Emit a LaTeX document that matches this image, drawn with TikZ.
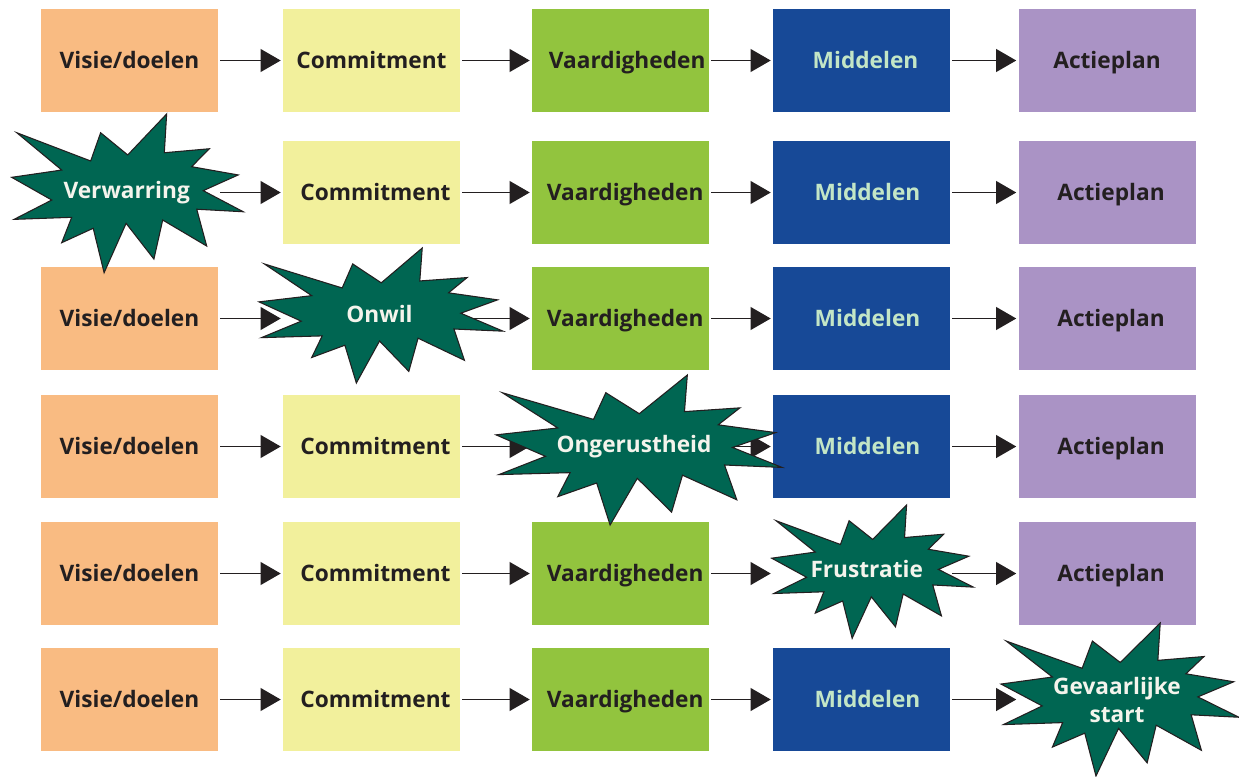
\documentclass[tikz,border=0pt]{standalone}
\usepackage{fontspec}
\setmainfont{Open Sans}
\usetikzlibrary{arrows.meta}
\definecolor{cOrange}{HTML}{F9BB82}
\definecolor{cYellow}{HTML}{F2F09C}
\definecolor{cGreen}{HTML}{92C43E}
\definecolor{cBlue}{HTML}{174997}
\definecolor{cPurple}{HTML}{AA93C5}
\definecolor{cStar}{HTML}{006652}
\definecolor{cText}{HTML}{231F20}
\definecolor{cMint}{HTML}{C3E6C6}
\definecolor{cStarText}{HTML}{F4F4EC}
\tikzset{
  lbl/.style={font=\bfseries\fontsize{17}{21}\selectfont, text height=12.2pt, text depth=0pt},
  cell/.style={lbl, minimum width=132.75pt, minimum height=77.25pt, inner sep=0pt, text=cText},
  tshift/.style={execute at begin node={\hspace*{#1}}},
  visbox/.style={cell, fill=cOrange},
  combox/.style={cell, fill=cYellow},
  vaabox/.style={cell, fill=cGreen},
  midbox/.style={cell, fill=cBlue, text=cMint},
  actbox/.style={cell, fill=cPurple},
  hole/.style={cell},
  arr/.style={draw=cText, line width=1.2pt, -{Triangle[length=15pt,width=17pt]}, shorten >=1.5pt, shorten <=1.5pt},
  burst/.pic={\draw[line width=0.8pt, draw=cText, fill=cStar, line join=miter]
    (0.669,0) -- (0.659,0.244) -- (0.853,0.219) -- (0.777,0.332) -- (0.978,0.384) -- (0.827,0.483) --
    (1.0,0.616) -- (0.799,0.600) -- (0.842,0.832) -- (0.652,0.668) -- (0.614,0.914) -- (0.494,0.689) --
    (0.399,1.0) -- (0.352,0.720) -- (0.216,0.811) -- (0.259,0.651) -- (0.010,0.664) -- (0.173,0.542) --
    (0,0.399) -- (0.216,0.353) -- (0.022,0.118) -- (0.341,0.296) -- (0.384,0.118) -- (0.501,0.258) -- cycle;},
  bursttext/.style={lbl, text=cStarText, inner sep=0pt}
}
\begin{document}
\begin{tikzpicture}[x=0.75pt, y=-0.75pt]
\fill[white] (0,0) rectangle (1239,776);
\path[use as bounding box] (0,0) rectangle (1239,776);
% row 1
\node[visbox] (r1-1) at (129.5,60.5) {Visie/doelen};
\node[combox] (r1-2) at (371.5,60.5) {Commitment};
\node[vaabox, tshift=10pt] (r1-3) at (620.5,60.5) {Vaardigheden};
\node[midbox, tshift=6pt] (r1-4) at (861.5,60.5) {Middelen};
\node[actbox] (r1-5) at (1107,60.5) {Actieplan};
% row 2
\node[hole]   (r2-1) at (129.5,192.5) {};
\node[combox, tshift=6pt] (r2-2) at (371.5,192.5) {Commitment};
\node[vaabox, tshift=7pt] (r2-3) at (620.5,192.5) {Vaardigheden};
\node[midbox, tshift=9pt] (r2-4) at (861.5,192.5) {Middelen};
\node[actbox, tshift=6pt] (r2-5) at (1107,192.5) {Actieplan};
% row 3
\node[visbox] (r3-1) at (129.5,318.5) {Visie/doelen};
\node[hole]   (r3-2) at (371.5,318.5) {};
\node[vaabox, tshift=7pt] (r3-3) at (620.5,318.5) {Vaardigheden};
\node[midbox, tshift=9pt] (r3-4) at (861.5,318.5) {Middelen};
\node[actbox, tshift=6pt] (r3-5) at (1107,318.5) {Actieplan};
% row 4
\node[visbox] (r4-1) at (129.5,446.5) {Visie/doelen};
\node[combox, tshift=6pt] (r4-2) at (371.5,446.5) {Commitment};
\node[hole]   (r4-3) at (620.5,446.5) {};
\node[midbox, tshift=9pt] (r4-4) at (861.5,446.5) {Middelen};
\node[actbox, tshift=6pt] (r4-5) at (1107,446.5) {Actieplan};
% row 5
\node[visbox] (r5-1) at (129.5,573.5) {Visie/doelen};
\node[combox, tshift=6pt] (r5-2) at (371.5,573.5) {Commitment};
\node[vaabox, tshift=7pt] (r5-3) at (620.5,573.5) {Vaardigheden};
\node[hole]   (r5-4) at (861.5,573.5) {};
\node[actbox, tshift=6pt] (r5-5) at (1107,573.5) {Actieplan};
% row 6
\node[visbox] (r6-1) at (129.5,699.5) {Visie/doelen};
\node[combox, tshift=6pt] (r6-2) at (371.5,699.5) {Commitment};
\node[vaabox, tshift=7pt] (r6-3) at (620.5,699.5) {Vaardigheden};
\node[midbox, tshift=9pt] (r6-4) at (861.5,699.5) {Middelen};
\node[hole]   (r6-5) at (1107,699.5) {};
% connectors
\foreach \r in {1,...,6}
  \foreach \c/\d in {1/2,2/3,3/4,4/5}
    \draw[arr] (r\r-\c.east) -- (r\r-\d.west);
% starbursts
\pic[shift={(11.7,114)}, xscale=231.6, yscale=158.7] {burst};
\pic[shift={(259,248)}, xscale=244, yscale=135] {burst};
\pic[shift={(496,375)}, xscale=286, yscale=150] {burst};
\pic[shift={(771.7,505)}, xscale=201.6, yscale=133.3] {burst};
\pic[shift={(1001,623)}, xscale=238, yscale=153] {burst};
\node[bursttext] (s2) at (126.7,190) {Verwarring};
\node[bursttext] (s3) at (379.5,314) {Onwil};
\node[bursttext] (s4) at (634,444.7) {Ongerustheid};
\node[bursttext] (s5) at (866.7,569.5) {Frustratie};
\node[lbl, text=cStarText, inner sep=0pt, align=center, text height=, text depth=] (s6) at (1117,700) {Gevaarlijke\\[-0.5pt]start};
\end{tikzpicture}
\end{document}
